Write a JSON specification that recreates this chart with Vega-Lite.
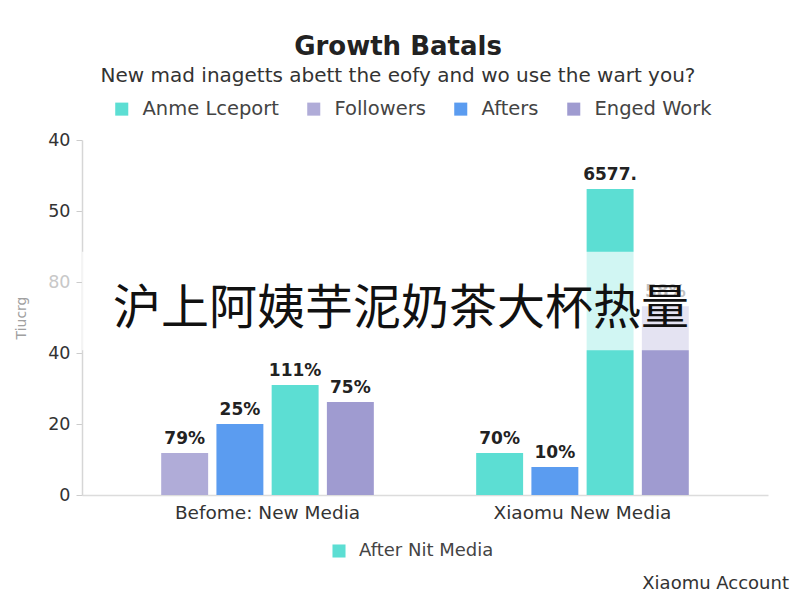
{
  "$schema": "https://vega.github.io/schema/vega-lite/v6.json",
  "width": 686,
  "height": 355,
  "autosize": {"type": "none"},
  "padding": {"left": 82, "top": 140, "right": 32, "bottom": 105},
  "background": "white",
  "title": {
    "text": "Growth Batals",
    "subtitle": "New mad inagetts abett the eofy and wo use the wart you?",
    "font": "DejaVu Sans",
    "subtitleFont": "DejaVu Sans",
    "fontSize": 26,
    "fontWeight": "bold",
    "color": "#222222",
    "subtitleFontSize": 20,
    "subtitleColor": "#333333",
    "subtitlePadding": 6,
    "anchor": "middle",
    "dx": -27,
    "offset": 13
  },
  "layer": [
    {
      "data": {
        "values": [
          {"group": "Befome: New Media", "slot": 1, "series": "Followers", "value": 11.8, "label": "79%"},
          {"group": "Befome: New Media", "slot": 2, "series": "Afters", "value": 20, "label": "25%"},
          {"group": "Befome: New Media", "slot": 3, "series": "Anme Lceport", "value": 31, "label": "111%"},
          {"group": "Befome: New Media", "slot": 4, "series": "Enged Work", "value": 26.2, "label": "75%"},
          {"group": "Xiaomu New Media", "slot": 1, "series": "Anme Lceport", "value": 11.8, "label": "70%"},
          {"group": "Xiaomu New Media", "slot": 2, "series": "Afters", "value": 7.9, "label": "10%"},
          {"group": "Xiaomu New Media", "slot": 3, "series": "Anme Lceport", "value": 86.2, "label": "6577."},
          {"group": "Xiaomu New Media", "slot": 4, "series": "Enged Work", "value": 53.2, "label": "58%"}
        ]
      },
      "encoding": {
        "x": {
          "field": "group",
          "type": "nominal",
          "sort": null,
          "scale": {"paddingInner": 0.28, "paddingOuter": 0.229},
          "axis": {
            "title": null,
            "labelAngle": 0,
            "labelLimit": 400,
            "labelFont": "DejaVu Sans",
            "labelFontSize": 18.5,
            "labelColor": "#333333",
            "labelPadding": 8,
            "ticks": false,
            "domainColor": "#dcdcdc",
            "domainWidth": 1.5
          }
        },
        "xOffset": {
          "field": "slot",
          "type": "nominal",
          "scale": {"paddingInner": 0.15, "paddingOuter": 0.128}
        },
        "y": {
          "field": "value",
          "type": "quantitative",
          "scale": {"domain": [0, 100], "nice": false},
          "axis": {
            "title": "Tiucrg",
            "titleFont": "DejaVu Sans",
            "titleFontSize": 14,
            "titleFontWeight": "normal",
            "titleColor": "#a0a0a0",
            "titlePadding": 19,
            "values": [0, 20, 40, 60, 80, 100],
            "labelExpr": "datum.value == 60 ? '80' : datum.value == 80 ? '50' : datum.value == 100 ? '40' : datum.label",
            "labelColor": {"expr": "datum.value == 60 ? '#c8c8c8' : '#333333'"},
            "labelFont": "DejaVu Sans",
            "labelFontSize": 17.5,
            "labelPadding": 6,
            "tickSize": 6,
            "tickColor": "#cccccc",
            "domainColor": "#d6d6d6",
            "domainWidth": 1.5,
            "grid": false
          }
        }
      },
      "layer": [
        {
          "mark": {"type": "bar"},
          "encoding": {
            "color": {
              "field": "series",
              "type": "nominal",
              "scale": {
                "domain": ["Anme Lceport", "Followers", "Afters", "Enged Work"],
                "range": ["#5cded3", "#b0acd8", "#5b9cf0", "#9f9bd0"]
              },
              "legend": {
                "orient": "none",
                "direction": "horizontal",
                "legendX": 30,
                "legendY": -41,
                "title": null
              }
            }
          }
        },
        {
          "mark": {
            "type": "text",
            "baseline": "bottom",
            "dy": -5,
            "font": "DejaVu Sans",
            "fontSize": 17,
            "fontWeight": "bold",
            "color": "#222222"
          },
          "encoding": {
            "text": {"field": "label", "type": "nominal"}
          }
        }
      ]
    },
    {
      "data": {"values": [{}]},
      "mark": {"type": "rect", "fill": "white", "opacity": 0.72},
      "encoding": {
        "y": {"datum": 40.8},
        "y2": {"datum": 68.5}
      }
    },
    {
      "data": {"values": [{"wm": "沪上阿姨芋泥奶茶大杯热量"}]},
      "mark": {
        "type": "text",
        "font": "Noto Sans CJK SC",
        "fontSize": 48,
        "color": "#111111",
        "dx": -24
      },
      "encoding": {
        "y": {"datum": 52},
        "text": {"field": "wm", "type": "nominal"}
      }
    },
    {
      "data": {"values": [{"note": "Xiaomu Account"}]},
      "mark": {
        "type": "text",
        "align": "right",
        "font": "DejaVu Sans",
        "fontSize": 18,
        "color": "#333333",
        "dx": 21
      },
      "encoding": {
        "x": {"value": "width"},
        "y": {"datum": -25},
        "text": {"field": "note", "type": "nominal"}
      }
    },
    {
      "data": {"values": [{"legend2": "After Nit Media"}]},
      "mark": {"type": "point", "filled": true, "opacity": 0},
      "encoding": {
        "fill": {
          "field": "legend2",
          "type": "nominal",
          "scale": {"range": ["#5cded3"]},
          "legend": {
            "orient": "none",
            "legendX": 248,
            "legendY": 402,
            "title": null,
            "symbolOpacity": 1,
            "labelFontSize": 18
          }
        }
      }
    }
  ],
  "config": {
    "font": "DejaVu Sans",
    "view": {"stroke": null},
    "legend": {
      "labelFont": "DejaVu Sans",
      "labelFontSize": 19.5,
      "labelColor": "#444444",
      "symbolType": "square",
      "symbolSize": 170,
      "symbolStrokeWidth": 0,
      "columnPadding": 25,
      "labelOffset": 11
    }
  }
}
